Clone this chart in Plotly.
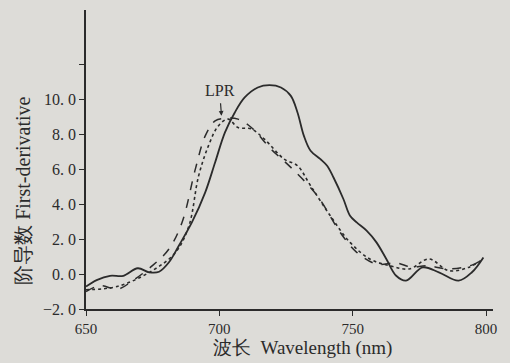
import plotly.graph_objects as go

# Solid curve
solid_x = [650, 654, 659, 664, 669.4, 673.7, 677.4, 681.1, 684.8, 689.7, 694.7, 698.4, 702.1, 705.8,
           709.5, 714.4, 718.8, 723.1, 726.8, 729.3, 731.7, 734.2, 737.9, 740.4, 742.8, 746.5, 749,
           751.5, 755.2, 758.9, 762.6, 766.3, 770, 776.2, 782.3, 789.7, 794.7, 799]
solid_y = [-0.72, -0.35, -0.1, -0.1, 0.33, 0.1, 0.13, 0.67, 1.62, 2.95, 4.67, 6.38, 8.1, 9.24,
           10.1, 10.67, 10.8, 10.67, 10.19, 9.24, 7.9, 7.05, 6.57, 6.19, 5.52, 4.29, 3.33,
           2.95, 2.48, 1.81, 0.86, -0.1, -0.38, 0.38, 0.1, -0.38, 0.1, 0.95]

# Dashed curve
dash_x = [650, 655.2, 662, 667.5, 674.9, 681.1, 686, 691, 694.7, 698.4, 702.1, 707, 712, 719.4,
          726.8, 736.7, 745.3, 751.5, 758.9, 766.3, 772.5, 777.4, 786, 794.7, 799]
dash_y = [-1.0, -0.67, -0.86, -0.38, 0.48, 1.43, 2.95, 6.0, 7.9, 8.76, 8.9, 8.86, 8.38, 7.14,
          6.1, 4.48, 2.38, 1.24, 0.57, 0.63, 0.38, 0.48, 0.29, 0.51, 0.86]

# Dotted curve
dot_x = [650, 662, 674.9, 683.6, 688.6, 692.2, 695.9, 699.6, 703.3, 707, 712, 716.9, 724.3,
         729.3, 734.2, 741.6, 749, 756.4, 763.8, 771.2, 778.6, 786, 793.4, 799]
dot_y = [-0.9, -0.7, 0.2, 1.24, 2.76, 5.6, 7.33, 8.47, 8.86, 8.38, 8.3, 7.71, 6.57,
         6.19, 5.05, 3.33, 1.81, 0.86, 0.48, 0.29, 0.86, 0.19, 0.38, 0.86]

y_ticks = [-2, 0, 2, 4, 6, 8, 10, 12]
y_labels = ["\u22122. 0", "0. 0", "2. 0", "4. 0", "6. 0", "8. 0", "10. 0", ""]
x_ticks = [650, 700, 750, 800]
x_labels = ["650", "700", "750", "800"]
x_title = "波长  Wavelength (nm)"
y_title = "阶导数 First-derivative"

ink = "#2b2b2b"
bg = "#dddcd8"
font = "Liberation Serif"

fig = go.Figure()
fig.add_trace(go.Scatter(x=solid_x, y=solid_y, mode="lines", line=dict(color=ink, width=1.8, shape="spline"),
                         showlegend=False))
fig.add_trace(go.Scatter(x=dash_x, y=dash_y, mode="lines",
                         line=dict(color=ink, width=1.5, dash="dash", shape="spline"), showlegend=False))
fig.add_trace(go.Scatter(x=dot_x, y=dot_y, mode="lines",
                         line=dict(color=ink, width=1.6, dash="dot", shape="spline"), showlegend=False))

fig.add_annotation(x=700.3, y=10.5, text="LPR", showarrow=False, font=dict(family=font, size=16, color=ink))
fig.add_annotation(x=700.8, y=9.05, ax=700.4, ay=9.85, xref="x", yref="y", axref="x", ayref="y",
                   text="", showarrow=True, arrowhead=2, arrowsize=0.8, arrowwidth=1.2, arrowcolor=ink)

# axis titles placed manually
fig.add_annotation(x=0.531, y=-0.132, xref="paper", yref="paper", text=x_title, showarrow=False,
                   xanchor="center", yanchor="middle", font=dict(family=font, size=19, color=ink))
fig.add_annotation(x=-0.155, y=0.395, xref="paper", yref="paper", text=y_title, showarrow=False,
                   textangle=-90, xanchor="center", yanchor="middle", font=dict(family=font, size=20, color=ink))

fig.update_layout(
    width=510, height=363,
    margin=dict(l=86, r=17, t=10, b=54),
    paper_bgcolor=bg, plot_bgcolor=bg,
    font=dict(family=font, color=ink, size=15),
    xaxis=dict(range=[650, 802.6], tickvals=x_ticks, ticktext=x_labels, showgrid=False, zeroline=False,
               showline=True, linecolor=ink, linewidth=1.6, ticks="outside", ticklen=5, tickcolor=ink,
               tickfont=dict(size=15), automargin=False),
    yaxis=dict(range=[-2, 15.1], tickvals=y_ticks, ticktext=y_labels, showgrid=False, zeroline=False,
               showline=True, linecolor=ink, linewidth=1.6, ticks="outside", ticklen=5, tickcolor=ink,
               tickfont=dict(size=16), automargin=False),
)

fig.write_html("out.html", config={"displayModeBar": False},
               post_script="document.body.style.margin='0';document.body.style.overflow='hidden';")
